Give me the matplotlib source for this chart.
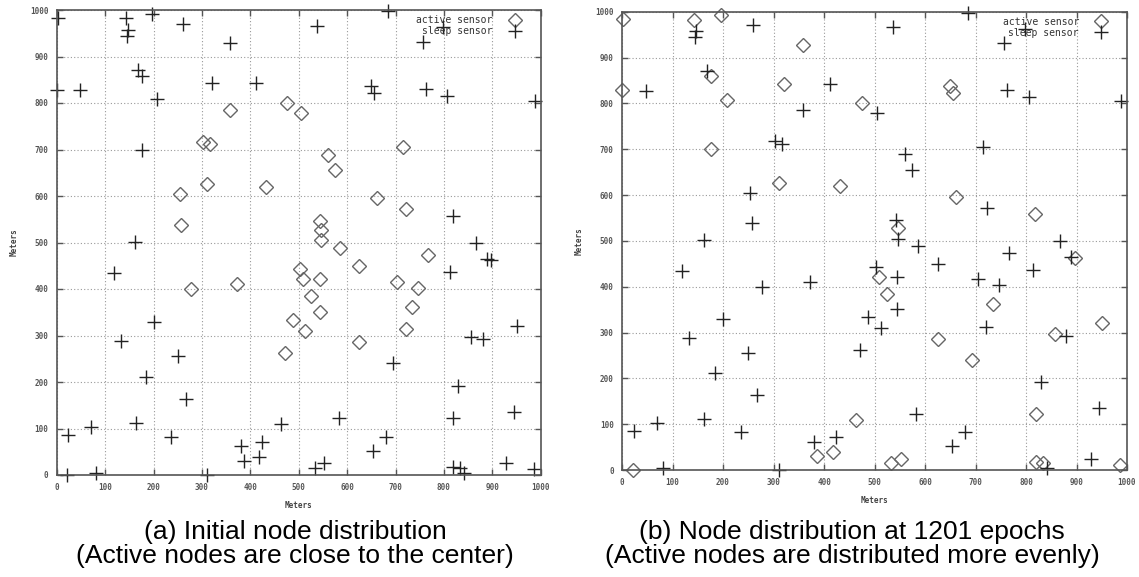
import numpy as np
import matplotlib.pyplot as plt

# node positions (same sensors in both panels), meters
node_x = [2, 0, 48, 143, 147, 145, 196, 260, 358, 169,
          176, 207, 320, 412, 176, 162, 359, 302, 317, 311,
          432, 254, 257, 537, 685, 757, 798, 650, 655, 763,
          806, 988, 476, 504, 561, 574, 715, 661, 722, 818,
          543, 547, 546, 586, 767, 867, 890, 898, 813, 502,
          509, 544, 625, 525, 545, 488, 513, 472, 625, 704,
          746, 735, 721, 694, 857, 880, 950, 830, 819, 945,
          583, 464, 680, 653, 533, 553, 819, 834, 841, 929,
          986, 118, 277, 373, 200, 132, 250, 184, 268, 70,
          23, 163, 236, 381, 386, 424, 417, 22, 81, 310]
node_y = [983, 829, 828, 982, 957, 944, 992, 970, 928, 871,
          859, 808, 842, 842, 700, 501, 785, 717, 712, 626,
          619, 604, 538, 966, 997, 932, 963, 837, 822, 830,
          814, 805, 800, 778, 689, 655, 705, 595, 572, 558,
          546, 527, 505, 489, 473, 500, 464, 463, 436, 443,
          421, 421, 450, 385, 351, 334, 310, 262, 286, 416,
          403, 362, 313, 240, 296, 293, 320, 191, 122, 136,
          122, 109, 82, 52, 15, 25, 18, 15, 4, 25,
          12, 435, 399, 411, 330, 288, 255, 211, 163, 103,
          86, 112, 82, 62, 31, 72, 39, 0, 4, 0]

# 1 = active sensor, 0 = sleep sensor
active_initial = [0, 0, 0, 0, 0, 0, 0, 0, 0, 0,
                  0, 0, 0, 0, 0, 0, 1, 1, 1, 1,
                  1, 1, 1, 0, 0, 0, 0, 0, 0, 0,
                  0, 0, 1, 1, 1, 1, 1, 1, 1, 0,
                  1, 1, 1, 1, 1, 0, 0, 0, 0, 1,
                  1, 1, 1, 1, 1, 1, 1, 1, 1, 1,
                  1, 1, 1, 0, 0, 0, 0, 0, 0, 0,
                  0, 0, 0, 0, 0, 0, 0, 0, 0, 0,
                  0, 0, 1, 1, 0, 0, 0, 0, 0, 0,
                  0, 0, 0, 0, 0, 0, 0, 0, 0, 0]
active_1201 = [1, 1, 0, 1, 0, 0, 1, 0, 1, 0,
               1, 1, 1, 0, 1, 0, 0, 0, 0, 1,
               1, 0, 0, 0, 0, 0, 0, 1, 1, 0,
               0, 0, 1, 0, 0, 0, 0, 1, 0, 1,
               0, 1, 0, 0, 0, 0, 0, 1, 0, 0,
               1, 0, 0, 1, 0, 0, 0, 0, 1, 0,
               0, 1, 0, 1, 1, 0, 1, 0, 1, 0,
               0, 1, 0, 0, 1, 1, 1, 1, 0, 0,
               1, 0, 0, 0, 0, 0, 0, 0, 0, 0,
               0, 0, 0, 0, 1, 0, 1, 1, 0, 0]

captions_a = ["(a) Initial node distribution", "(Active nodes are close to the center)"]
captions_b = ["(b) Node distribution at 1201 epochs", "(Active nodes are distributed more evenly)"]

x = np.array(node_x)
y = np.array(node_y)

W, H = 1139, 577
fig = plt.figure(figsize=(W / 100, H / 100), dpi=100)
# axes boxes in pixels: left, right, top, bottom
boxes = [(56.7, 540.7, 10, 475), (622, 1127, 11.7, 470)]
axes = []
for l, r, t, b in boxes:
    axes.append(fig.add_axes([l / W, 1 - b / H, (r - l) / W, (b - t) / H]))

small = dict(family="DejaVu Sans Mono", size=5.5, color="#444444", weight="bold")

for ax, act, (l, r, t, b) in zip(axes, [active_initial, active_1201], boxes):
    act = np.array(act) == 1
    ax.plot(x[act], y[act], linestyle="none", marker="D", ms=6.8, mfc="none",
            mec="#666666", mew=1.0, label="active sensor", clip_on=False)
    ax.plot(x[~act], y[~act], linestyle="none", marker="+", ms=10, mec="#222222",
            mew=1.0, label="sleep sensor", clip_on=False)
    ax.set_xlim(0, 1000)
    ax.set_ylim(0, 1000)
    ax.set_xticks(range(0, 1001, 100))
    ax.set_yticks(range(0, 1001, 100))
    ax.grid(True, linestyle=(0, (1, 2)), color="#999999", linewidth=0.8)
    ax.tick_params(direction="in", length=4, width=1, color="#555555",
                   top=True, right=True, pad=6)
    for lab in ax.get_xticklabels() + ax.get_yticklabels():
        lab.set_fontfamily("DejaVu Sans Mono")
        lab.set_fontsize(5.5)
        lab.set_color("#555555")
        lab.set_fontweight("bold")
    for sp in ax.spines.values():
        sp.set_color("#555555")
        sp.set_linewidth(1.2)
    ax.set_xlabel("Meters", fontdict=small, labelpad=6)
    ax.set_ylabel("Meters", fontdict=small, labelpad=8)
    leg = ax.legend(loc="upper right", frameon=False, markerfirst=False,
                    bbox_to_anchor=(1 - 16 / (r - l), 1 - 5 / (b - t)),
                    prop=dict(family="DejaVu Sans Mono", size=7),
                    handlelength=2.0, handletextpad=1.3, labelspacing=0.1,
                    borderaxespad=0, borderpad=0)
    for txt in leg.get_texts():
        txt.set_color("#333333")

for cx, lines in [(295, captions_a), (852, captions_b)]:
    for base, line in zip([539, 563], lines):
        fig.text(cx / W, 1 - base / H, line, ha="center", va="baseline",
                 family="Liberation Sans", size=19)

fig.savefig("out.png", dpi=100)
